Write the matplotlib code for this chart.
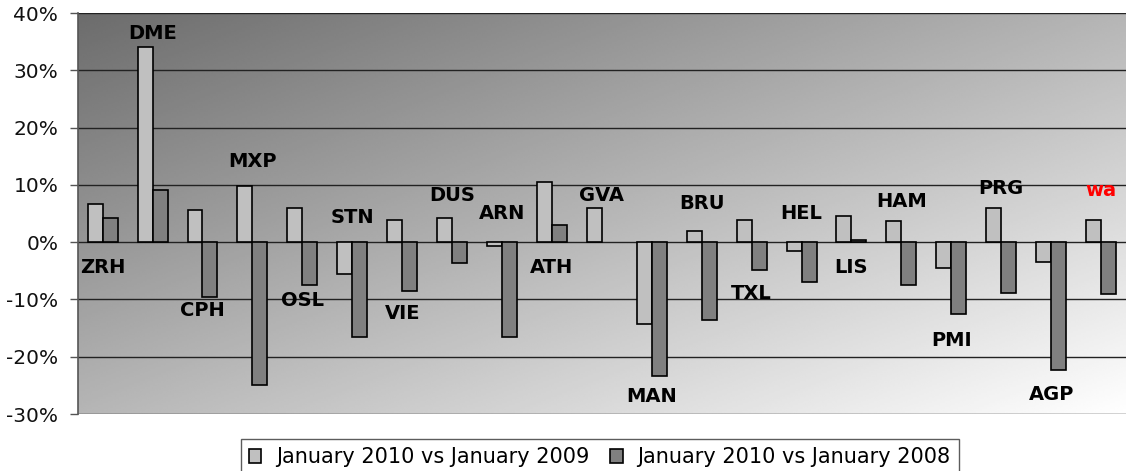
import numpy as np
import matplotlib
matplotlib.use("Agg")
import matplotlib.pyplot as plt
from matplotlib.ticker import FuncFormatter

# Airports, in chart order
categories = ["ZRH", "DME", "CPH", "MXP", "OSL", "STN", "VIE", "DUS", "ARN", "ATH",
              "GVA", "MAN", "BRU", "TXL", "HEL", "LIS", "HAM", "PMI", "PRG", "AGP", "wa"]

# Change in %
vs_2009 = [6.6, 34.1, 5.6, 9.9, 5.9, -5.5, 3.9, 4.3, -0.6, 10.6,
           5.9, -14.2, 2.0, 3.9, -1.6, 4.6, 3.7, -4.5, 5.9, -3.5, 3.9]
vs_2008 = [4.3, 9.2, -9.5, -24.9, -7.5, -16.5, -8.6, -3.6, -16.5, 3.0,
           np.nan, -23.3, -13.5, -4.9, -6.9, 0.4, -7.5, -12.5, -8.8, -22.3, -9.1]

series_names = ["January 2010 vs January 2009", "January 2010 vs January 2008"]

# where each airport name sits (y, in %)
label_y = [-4.5, 36.5, -12.0, 14.1, -10.1, 4.4, -12.5, 8.1, 5.1, -4.4,
           8.1, -27.0, 6.7, -9.0, 5.1, -4.4, 7.1, -17.2, 9.3, -26.6, 9.0]

fig = plt.figure(figsize=(11.26, 4.71), dpi=100)
ax = fig.add_axes([0.069, 0.121, 0.931, 0.851])

# diagonal grey gradient behind the plot
u = np.linspace(0, 1, 400)
v = np.linspace(0, 1, 200)
uu, vv = np.meshgrid(u, v)
shade = (108 + 147 * (uu + vv) / 2) / 255.0
ax.imshow(shade, cmap="gray", vmin=0, vmax=1, extent=(0, 1, 0, 1),
          transform=ax.transAxes, aspect="auto", zorder=0, interpolation="bilinear")

x = np.arange(len(categories))
w = 0.30
ax.bar(x - w / 2, vs_2009, w, color="#c0c0c0", edgecolor="black", linewidth=1.2,
       label=series_names[0], zorder=2)
ax.bar(x + w / 2, vs_2008, w, color="#808080", edgecolor="black", linewidth=1.2,
       label=series_names[1], zorder=2)

for i, name in enumerate(categories):
    ax.text(x[i], label_y[i], name, ha="center", va="center", fontsize=14,
            fontweight="bold", color="red" if name == "wa" else "black", zorder=3)

ax.set_xlim(-0.5, len(categories) - 0.5)
ax.set_ylim(-30, 40)
ax.set_yticks(range(-30, 41, 10))
ax.yaxis.set_major_formatter(FuncFormatter(lambda val, pos: f"{val:.0f}%"))
ax.set_xticks([])
ax.tick_params(axis="y", length=6, width=1, color="#555555", pad=8,
               labelsize=14.5, labelcolor="#111111")

ax.set_axisbelow(True)
ax.grid(axis="y", color="#222222", linewidth=1.0)
for side in ["top", "right", "bottom"]:
    ax.spines[side].set_visible(False)
ax.spines["left"].set_color("#555555")
ax.spines["left"].set_linewidth(1.2)

leg = fig.legend(loc="upper center", bbox_to_anchor=(0.5326, 0.068), ncol=2,
                 fontsize=15, frameon=True, fancybox=False, shadow=False,
                 handlelength=0.6, handleheight=0.6, handletextpad=0.7,
                 columnspacing=1.0, borderpad=0.4, borderaxespad=0)
leg.get_frame().set_edgecolor("#333333")
leg.get_frame().set_linewidth(1.0)

fig.savefig("out.png", dpi=100)
